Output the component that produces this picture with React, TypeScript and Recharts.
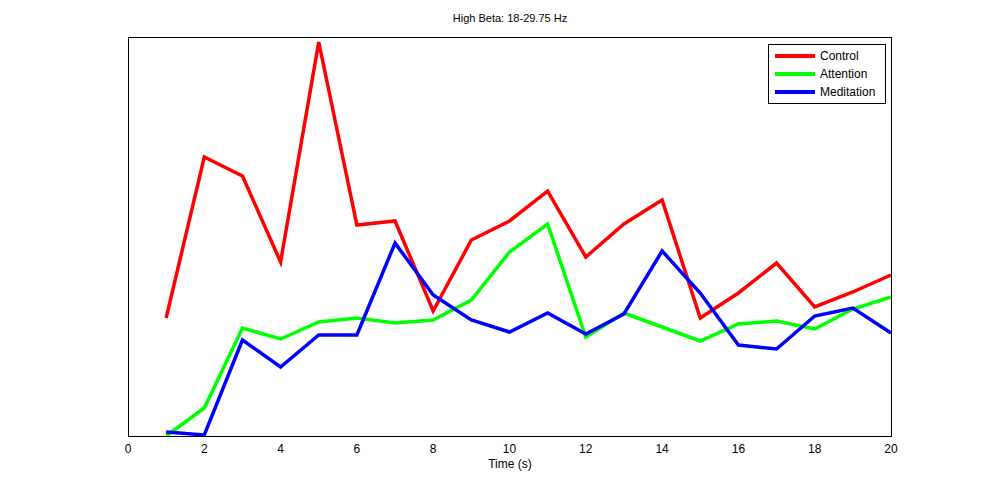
import React from 'react';
import { Line, LineChart, XAxis, YAxis } from 'recharts';

const times = [1, 2, 3, 4, 5, 6, 7, 8, 9, 10, 11, 12, 13, 14, 15, 16, 17, 18, 19, 20];
const control = [118, 279, 260, 174, 394, 211, 215, 125, 196, 215, 245, 179, 212, 236, 118, 143, 173, 129, 144, 161];
const attention = [0, 28, 108, 97, 114, 118, 113, 116, 136, 184, 212, 99, 123, 109, 95, 112, 115, 107, 127, 139];
const meditation = [4, 1, 96, 69, 101, 101, 193, 141, 116, 104, 123, 102, 122, 185, 143, 91, 87, 120, 128, 103];
const xTicks = [0, 2, 4, 6, 8, 10, 12, 14, 16, 18, 20];

const data = times.map((t, i) => ({
  t,
  control: control[i],
  attention: attention[i],
  meditation: meditation[i],
}));

const legendItems = [
  { name: 'Control', color: '#ff0000' },
  { name: 'Attention', color: '#00ff00' },
  { name: 'Meditation', color: '#0000ff' },
];

const font = '"Liberation Sans", Arial, sans-serif';

export default function App() {
  return (
    <div style={{ position: 'absolute', left: 0, top: 0, width: 984, height: 490, background: '#fff', fontFamily: font }}>
      <div style={{ position: 'absolute', top: 12, width: 1020, textAlign: 'center', fontSize: 11 }}>
        High Beta: 18-29.75 Hz
      </div>
      <LineChart width={984} height={490} data={data} margin={{ top: 37, right: 93, bottom: 34, left: 128 }}>
        <XAxis
          dataKey="t"
          type="number"
          domain={[0, 20]}
          ticks={xTicks}
          height={20}
          tickLine={false}
          axisLine={false}
          tick={{ fill: '#000', fontSize: 12, fontFamily: font }}
          tickMargin={2}
        />
        <YAxis hide domain={[0, 399]} />
        <Line dataKey="control" stroke="#ff0000" strokeWidth={3.5} dot={false} isAnimationActive={false} />
        <Line dataKey="attention" stroke="#00ff00" strokeWidth={3.5} dot={false} isAnimationActive={false} />
        <Line dataKey="meditation" stroke="#0000ff" strokeWidth={3.5} dot={false} isAnimationActive={false} />
      </LineChart>
      <div style={{ position: 'absolute', left: 128, top: 37, width: 764, height: 400, border: '1px solid #000', boxSizing: 'border-box', pointerEvents: 'none' }} />
      <div style={{ position: 'absolute', top: 457, width: 1020, textAlign: 'center', fontSize: 12 }}>Time (s)</div>
      <div style={{ position: 'absolute', left: 768, top: 44, width: 118, height: 60, border: '1px solid #000', boxSizing: 'border-box', background: '#fff', fontSize: 12 }}>
        {legendItems.map((it, i) => (
          <div key={it.name} style={{ position: 'absolute', top: 4 + i * 18, left: 6, display: 'flex', alignItems: 'center' }}>
            <div style={{ width: 40, height: 4, background: it.color, marginRight: 5 }} />
            <span>{it.name}</span>
          </div>
        ))}
      </div>
    </div>
  );
}
